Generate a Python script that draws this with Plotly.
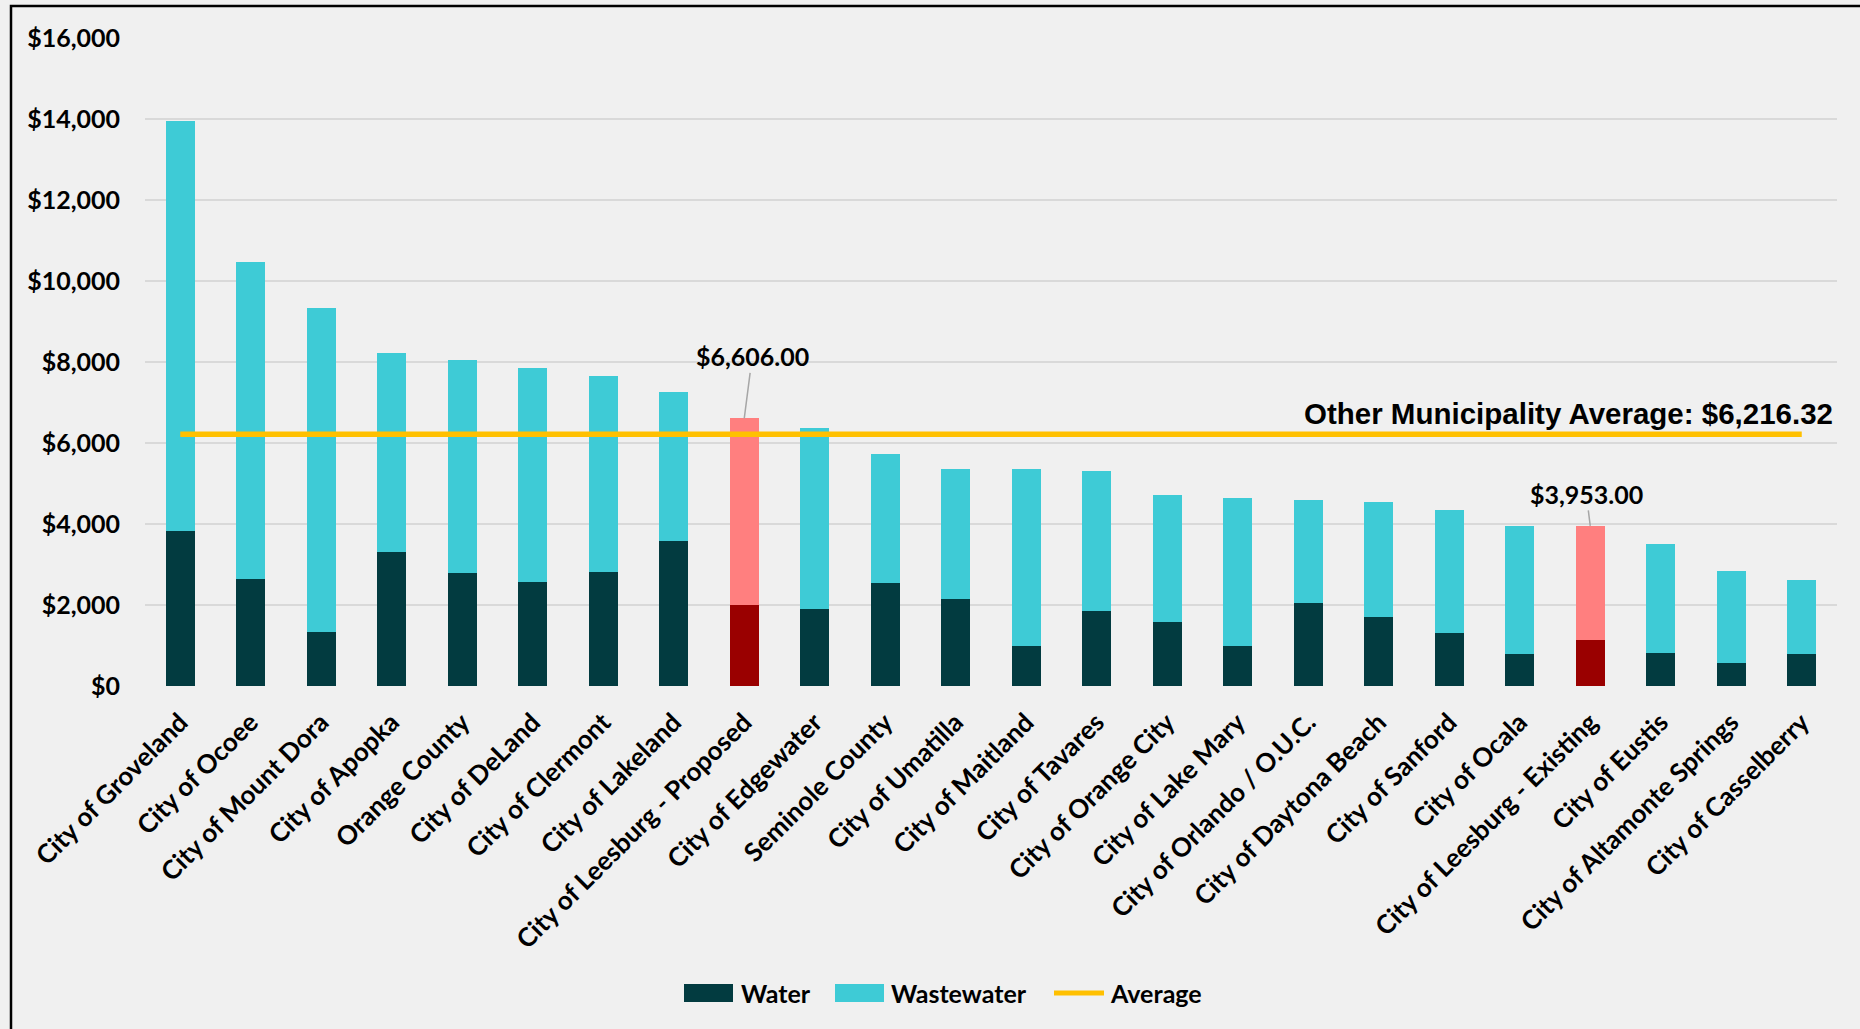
import plotly.graph_objects as go

categories = [
    "City of Groveland", "City of Ocoee", "City of Mount Dora", "City of Apopka",
    "Orange County", "City of DeLand", "City of Clermont", "City of Lakeland",
    "City of Leesburg - Proposed", "City of Edgewater", "Seminole County",
    "City of Umatilla", "City of Maitland", "City of Tavares", "City of Orange City",
    "City of Lake Mary", "City of Orlando / O.U.C.", "City of Daytona Beach",
    "City of Sanford", "City of Ocala", "City of Leesburg - Existing",
    "City of Eustis", "City of Altamonte Springs", "City of Casselberry",
]
water = [3820, 2640, 1330, 3300, 2780, 2560, 2820, 3580, 2000, 1900, 2550, 2160,
         1000, 1840, 1590, 1000, 2055, 1705, 1310, 790, 1136, 815, 570, 790]
wastewater = [10120, 7820, 8000, 4930, 5280, 5280, 4840, 3680, 4606, 4470, 3190, 3210,
              4350, 3480, 3120, 3630, 2545, 2840, 3040, 3165, 2817, 2691, 2270, 1830]
average = 6216.32
highlight = ["City of Leesburg - Proposed", "City of Leesburg - Existing"]
label_texts = {"City of Leesburg - Proposed": "$6,606.00", "City of Leesburg - Existing": "$3,953.00"}
y_ticks = [0, 2000, 4000, 6000, 8000, 10000, 12000, 14000, 16000]
y_tick_labels = ["$0", "$2,000", "$4,000", "$6,000", "$8,000", "$10,000", "$12,000", "$14,000", "$16,000"]

C_WATER = "#023B40"
C_WW = "#3ECBD6"
C_WATER_HI = "#9A0000"
C_WW_HI = "#FF7F7F"
C_AVG = "#FFC000"
BG = "#F0F0F0"
FONT = "Lato"

water_colors = [C_WATER_HI if c in highlight else C_WATER for c in categories]
ww_colors = [C_WW_HI if c in highlight else C_WW for c in categories]

fig = go.Figure()
fig.add_trace(go.Bar(x=categories, y=water, name="Water", marker=dict(color=water_colors, line=dict(width=0)), showlegend=False))
fig.add_trace(go.Bar(x=categories, y=wastewater, name="Wastewater", marker=dict(color=ww_colors, line=dict(width=0)), showlegend=False))
fig.add_trace(go.Scatter(x=categories, y=[average] * len(categories), mode="lines", name="Average",
                         line=dict(color=C_AVG, width=5.5), showlegend=False))

# plot geometry in pixels (for paper coordinate conversions)
W, H = 1860, 1029
L, R, T, B = 145, 23, 38, 343
PW, PH = W - L - R, H - T - B

def px(x):
    return (x - L) / PW

def py(y):
    return (H - B - y) / PH

annotations = []
for c in highlight:
    i = categories.index(c)
    total = water[i] + wastewater[i]
    if c.endswith("Proposed"):
        ax, ay = 8, -62
    else:
        ax, ay = -4, -32
    annotations.append(dict(x=c, y=total, xref="x", yref="y", text=label_texts[c],
                            showarrow=True, arrowhead=0, arrowwidth=1.5, arrowcolor="#A6A6A6",
                            ax=ax, ay=ay, standoff=0,
                            font=dict(family=FONT, size=25, color="black", weight="bold")))

annotations.append(dict(x=px(1835), y=average, xref="paper", yref="y", xanchor="right", yanchor="bottom",
                        yshift=2, showarrow=False, text="Other Municipality Average: $6,216.32",
                        font=dict(family="Liberation Sans", size=29.5, color="black", weight="bold")))

# legend (custom)
shapes = []
ly = 993
shapes.append(dict(type="rect", xref="paper", yref="paper", x0=px(684), x1=px(733), y0=py(1002), y1=py(984),
                   fillcolor=C_WATER, line=dict(width=0)))
shapes.append(dict(type="rect", xref="paper", yref="paper", x0=px(835), x1=px(884), y0=py(1002), y1=py(984),
                   fillcolor=C_WW, line=dict(width=0)))
shapes.append(dict(type="line", xref="paper", yref="paper", x0=px(1054), x1=px(1104), y0=py(ly), y1=py(ly),
                   line=dict(color=C_AVG, width=5)))
for text, x0 in [("Water", 739), ("Wastewater", 889), ("Average", 1108)]:
    annotations.append(dict(x=px(x0), y=py(ly), xref="paper", yref="paper", xanchor="left", yanchor="middle",
                            showarrow=False, text=text,
                            font=dict(family=FONT, size=25, color="black", weight="bold")))

# frame border
shapes.append(dict(type="rect", xref="paper", yref="paper", x0=px(11), x1=px(1900), y0=py(1100), y1=py(6),
                   fillcolor="rgba(0,0,0,0)", line=dict(color="black", width=2.5)))

fig.update_layout(
    width=W, height=H,
    barmode="stack", bargap=0.59,
    paper_bgcolor=BG, plot_bgcolor=BG,
    margin=dict(l=L, r=R, t=T, b=B, autoexpand=False),
    showlegend=False,
    annotations=annotations, shapes=shapes,
    xaxis=dict(type="category", tickangle=-45, showgrid=False, showline=False, zeroline=False,
               ticks="", ticklabelstandoff=15,
               tickfont=dict(family=FONT, size=26, color="black", weight="bold")),
    yaxis=dict(range=[0, 16000], tickvals=y_ticks, ticktext=y_tick_labels, showgrid=True,
               gridcolor="#D9D9D9", gridwidth=2, zeroline=False, showline=False, ticks="",
               ticklabelstandoff=24,
               tickfont=dict(family=FONT, size=25, color="black", weight="bold")),
)

fig.write_html("out.html", config={"displayModeBar": False},
               post_script="document.body.style.margin='0px';document.body.style.overflow='hidden';")
